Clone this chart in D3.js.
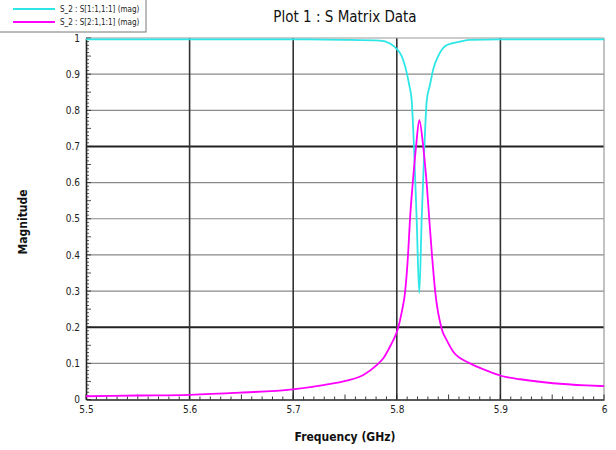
<!DOCTYPE html>
<html><head><meta charset="utf-8">
<script src="https://cdn.jsdelivr.net/npm/d3@7"></script>
<style>body{margin:0;background:#fff;}svg{display:block;}</style>
</head><body>
<svg id="c" width="616" height="450"></svg>
<script>
const chartTitle = "Plot 1 : S Matrix Data";
const xLabel = "Frequency (GHz)";
const yLabel = "Magnitude";
const seriesNames = ["S_2 : S[1:1,1:1] (mag)", "S_2 : S[2:1,1:1] (mag)"];
const xTicks = [5.5, 5.6, 5.7, 5.8, 5.9, 6.0];
const xTickLabels = ["5.5", "5.6", "5.7", "5.8", "5.9", "6"];
const yTicks = [0, 0.1, 0.2, 0.3, 0.4, 0.5, 0.6, 0.7, 0.8, 0.9, 1];
const yTickLabels = ["0", "0.1", "0.2", "0.3", "0.4", "0.5", "0.6", "0.7", "0.8", "0.9", "1"];

// S11 (cyan)
const s11Freq = [5.5, 5.6, 5.7, 5.75, 5.7838, 5.7934, 5.7998, 5.8047, 5.8095, 5.812, 5.8144, 5.8166, 5.8192, 5.8217, 5.824, 5.8266, 5.8289, 5.832, 5.8353, 5.84, 5.848, 5.861, 5.8707, 5.9, 5.95, 6.0];
const s11Mag  = [0.996, 0.996, 0.996, 0.995, 0.993, 0.985, 0.97, 0.95, 0.905, 0.87, 0.826, 0.697, 0.497, 0.295, 0.497, 0.697, 0.826, 0.87, 0.915, 0.95, 0.98, 0.99, 0.995, 0.996, 0.996, 0.996];
// S21 (magenta)
const s21Freq = [5.5, 5.55, 5.6, 5.6486, 5.6995, 5.729, 5.7516, 5.7677, 5.7806, 5.787, 5.7934, 5.7966, 5.801, 5.805, 5.8079, 5.8108, 5.8127, 5.8153, 5.8185, 5.8217, 5.8256, 5.8289, 5.8314, 5.834, 5.8372, 5.8433, 5.8482, 5.8545, 5.8707, 5.8868, 5.9013, 5.919, 5.951, 5.983, 6.0];
const s21Mag  = [0.009, 0.011, 0.013, 0.019, 0.028, 0.04, 0.052, 0.068, 0.095, 0.114, 0.146, 0.164, 0.195, 0.245, 0.295, 0.398, 0.497, 0.596, 0.697, 0.773, 0.697, 0.596, 0.497, 0.398, 0.295, 0.196, 0.164, 0.132, 0.1, 0.08, 0.065, 0.056, 0.045, 0.039, 0.037];

const colors = ["#2ee6e6", "#ff00ff"];

const svg = d3.select("#c");
const L = 86, R = 604, T = 38, B = 399.5;
const x = d3.scaleLinear().domain([5.5, 6.0]).range([L, R]);
const y = d3.scaleLinear().domain([0, 1]).range([B, T]);
const font = "'DejaVu Sans Condensed', 'Liberation Sans Narrow', sans-serif";

// minor grid / major grid
const g = svg.append("g");
yTicks.filter(v => v > 0 && v < 1).forEach(v => {
  const strong = Math.abs(v - 0.2) < 1e-9 || Math.abs(v - 0.7) < 1e-9;
  g.append("line").attr("x1", L).attr("x2", R).attr("y1", y(v)).attr("y2", y(v))
    .attr("stroke", strong ? "#222" : "#8a8a8a").attr("stroke-width", strong ? 2 : 1.2);
});
xTicks.filter(v => v > 5.5 && v < 6.0).forEach(v => {
  g.append("line").attr("x1", x(v)).attr("x2", x(v)).attr("y1", T).attr("y2", B)
    .attr("stroke", "#333").attr("stroke-width", 1.6);
});
// frame top/right
g.append("line").attr("x1", L).attr("x2", R).attr("y1", T).attr("y2", T).attr("stroke", "#999").attr("stroke-width", 1.2);
g.append("line").attr("x1", R).attr("x2", R).attr("y1", T).attr("y2", B).attr("stroke", "#999").attr("stroke-width", 1.2);

// minor ticks
const yMinor = d3.range(0, 101).map(i => i / 100);
svg.append("g").selectAll("line").data(yMinor).join("line")
  .attr("x1", L).attr("x2", d => L + ((Math.round(d * 100) % 5 === 0) ? 5 : 3))
  .attr("y1", d => y(d)).attr("y2", d => y(d)).attr("stroke", "#222").attr("stroke-width", 0.8);
const xMinor = d3.range(0, 51).map(i => 5.5 + i / 100);
svg.append("g").selectAll("line").data(xMinor).join("line")
  .attr("x1", d => x(d)).attr("x2", d => x(d))
  .attr("y1", B).attr("y2", (d, i) => B - ((i % 5 === 0) ? 5 : 3)).attr("stroke", "#222").attr("stroke-width", 0.9);

// axes
const xAxis = d3.axisBottom(x).tickValues(xTicks).tickFormat((d, i) => xTickLabels[i]).tickSize(0).tickPadding(6);
const xg = svg.append("g").attr("transform", `translate(0,${B})`).call(xAxis);
xg.select(".domain").attr("stroke", "#222").attr("stroke-width", 1.6);
xg.selectAll("text").attr("font-family", font).attr("font-size", 10).attr("fill", "#222");
const yAxis = d3.axisLeft(y).tickValues(yTicks).tickFormat((d, i) => yTickLabels[i]).tickSize(0).tickPadding(6);
const yg = svg.append("g").attr("transform", `translate(${L},0)`).call(yAxis);
yg.select(".domain").attr("stroke", "#222").attr("stroke-width", 1.6);
yg.selectAll("text").attr("font-family", font).attr("font-size", 10).attr("fill", "#222");

// lines
const line = d3.line().x(d => x(d[0])).y(d => y(d[1])).curve(d3.curveMonotoneX);
svg.append("path").datum(s11Freq.map((f, i) => [f, s11Mag[i]]))
  .attr("d", line).attr("fill", "none").attr("stroke", colors[0]).attr("stroke-width", 1.8);
svg.append("path").datum(s21Freq.map((f, i) => [f, s21Mag[i]]))
  .attr("d", line).attr("fill", "none").attr("stroke", colors[1]).attr("stroke-width", 1.8);

// titles
svg.append("text").attr("x", 345).attr("y", 22).attr("text-anchor", "middle")
  .attr("font-family", font).attr("font-size", 15).attr("fill", "#111").text(chartTitle);
svg.append("text").attr("x", 345).attr("y", 441).attr("text-anchor", "middle")
  .attr("font-family", font).attr("font-size", 12).attr("font-weight", "bold").attr("fill", "#111").text(xLabel);
svg.append("text").attr("transform", "translate(27,222) rotate(-90)").attr("text-anchor", "middle")
  .attr("font-family", font).attr("font-size", 12).attr("font-weight", "bold").attr("fill", "#111").text(yLabel);

// legend
const lg = svg.append("g");
lg.append("rect").attr("x", -1).attr("y", -1).attr("width", 147).attr("height", 33)
  .attr("fill", "#fff").attr("stroke", "#777").attr("stroke-width", 1);
seriesNames.forEach((n, i) => {
  const yy = 9 + i * 13;
  lg.append("line").attr("x1", 13).attr("x2", 55).attr("y1", yy).attr("y2", yy)
    .attr("stroke", colors[i]).attr("stroke-width", 1.8);
  lg.append("text").attr("x", 60).attr("y", yy + 3).attr("font-family", font)
    .attr("font-size", 8).attr("fill", "#222").text(n);
});
</script>
</body></html>
